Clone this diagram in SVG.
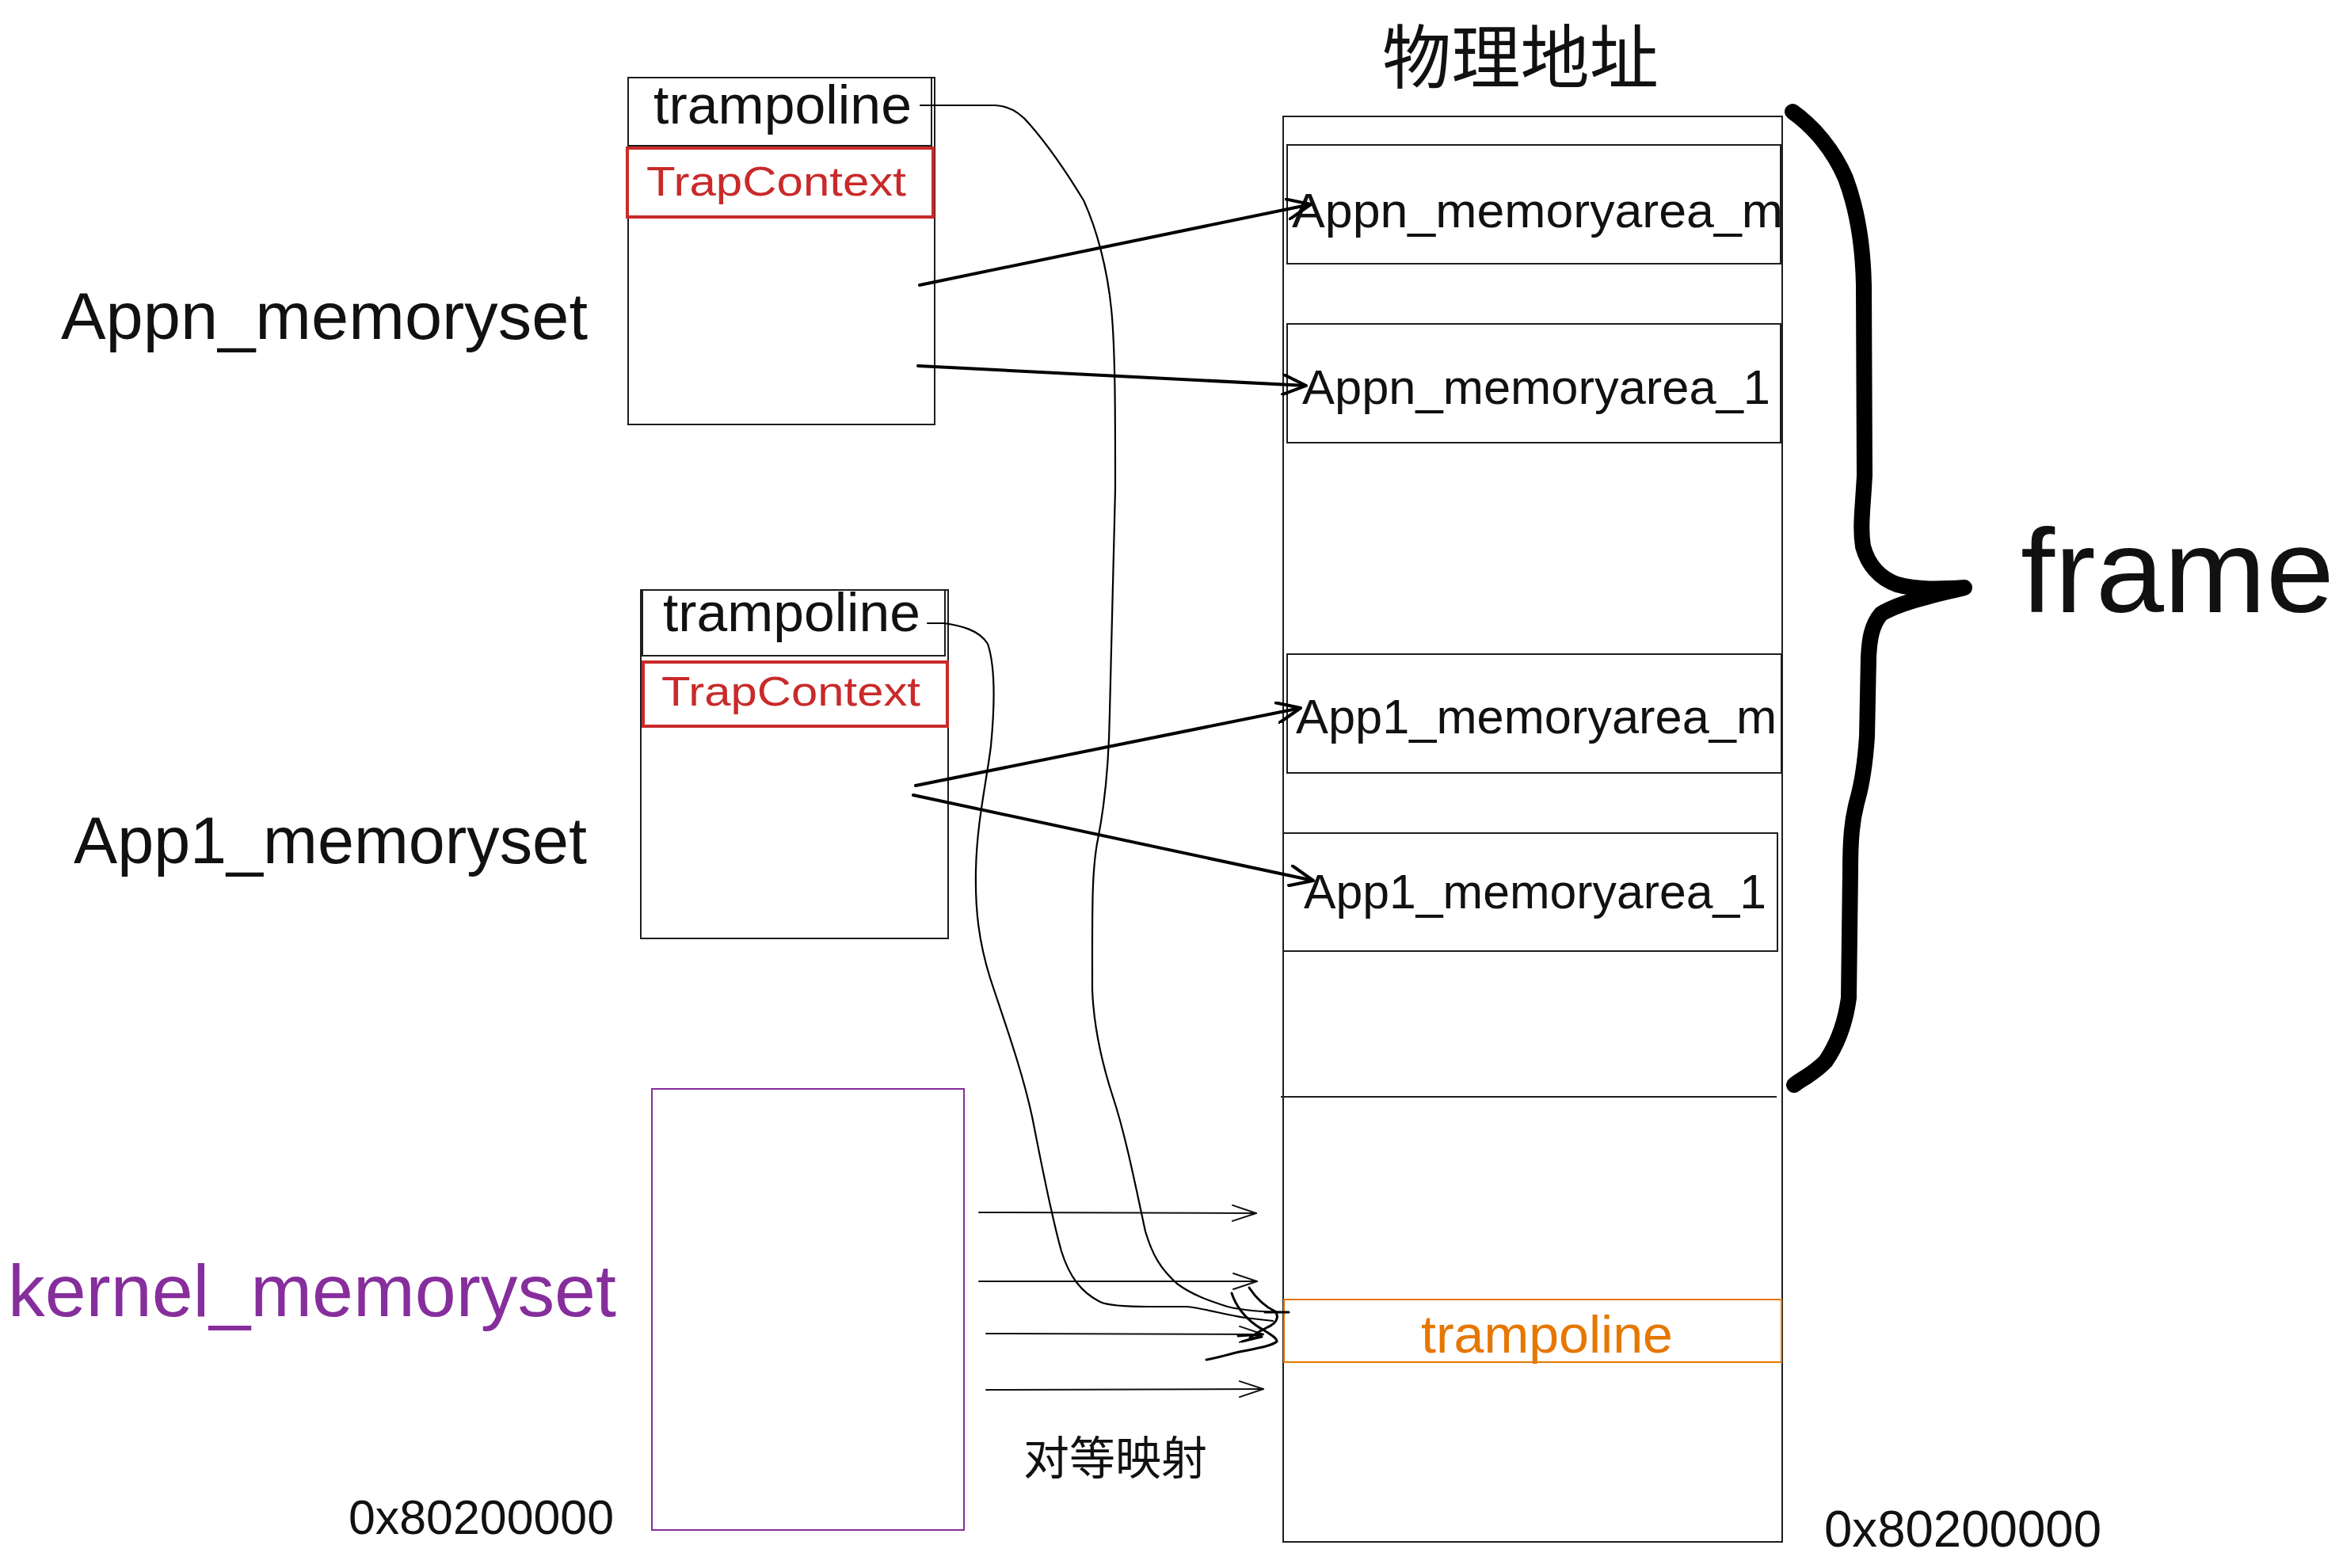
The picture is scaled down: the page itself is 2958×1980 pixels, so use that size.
<svg xmlns="http://www.w3.org/2000/svg" width="2958" height="1980" viewBox="0 0 2958 1980">
<defs>
<style>
.bg{fill:#ffffff}
.box{fill:none;stroke:#1e1e1e;stroke-width:2}
.red{fill:none;stroke:#c92a2a;stroke-width:4}
.purple{fill:none;stroke:#862e9c;stroke-width:2}
.orange{fill:none;stroke:#e67700;stroke-width:2}
.hw{font-family:"Liberation Sans","Noto Sans",sans-serif;fill:#111111}
.cjk{font-family:"Noto Sans CJK SC","Liberation Sans",sans-serif;fill:#111111}
.thick{fill:none;stroke:#000;stroke-width:4;stroke-linecap:round;stroke-linejoin:round}
.curve{fill:none;stroke:#000;stroke-width:2.2;stroke-linecap:round;stroke-linejoin:round}
.thin{fill:none;stroke:#111;stroke-width:2;stroke-linecap:round}
.scrib{fill:none;stroke:#000;stroke-width:3;stroke-linecap:round;stroke-linejoin:round}
.brace{fill:none;stroke:#000;stroke-width:20;stroke-linecap:round;stroke-linejoin:round}
</style>
<marker id="ahThick" viewBox="0 0 32 28" refX="31" refY="14" markerWidth="32" markerHeight="28" markerUnits="userSpaceOnUse" orient="auto">
<path d="M1,1 L31,14 L1,27" fill="none" stroke="#000" stroke-width="4" stroke-linecap="round" stroke-linejoin="round"/>
</marker>
<marker id="ahThin" viewBox="0 0 32 24" refX="31" refY="12" markerWidth="32" markerHeight="24" markerUnits="userSpaceOnUse" orient="auto">
<path d="M1,2 L31,12 L1,22" fill="none" stroke="#111" stroke-width="2" stroke-linecap="round"/>
</marker>
</defs>
<rect class="bg" x="0" y="0" width="2958" height="1980"/>

<g id="title">
<text class="cjk" x="1745" y="104" font-size="88" textLength="349" lengthAdjust="spacingAndGlyphs">物理地址</text>
</g>

<g id="appn-memoryset">
<text class="hw" x="77" y="428" font-size="84" textLength="665" lengthAdjust="spacingAndGlyphs">Appn_memoryset</text>
<rect class="box" x="793" y="98" width="387" height="438"/>
<rect class="box" x="793" y="98" width="383" height="86"/>
<text class="hw" x="825" y="156" font-size="68" textLength="326" lengthAdjust="spacingAndGlyphs">trampoline</text>
<rect class="red" x="792" y="187" width="386" height="87"/>
<text class="hw" x="816" y="247" font-size="52" style="fill:#c92a2a" textLength="328" lengthAdjust="spacingAndGlyphs">TrapContext</text>
</g>

<g id="app1-memoryset">
<text class="hw" x="93" y="1090" font-size="84" textLength="648" lengthAdjust="spacingAndGlyphs">App1_memoryset</text>
<rect class="box" x="809" y="745" width="388" height="440"/>
<rect class="box" x="811" y="745" width="382" height="83"/>
<text class="hw" x="837" y="797" font-size="68" textLength="325" lengthAdjust="spacingAndGlyphs">trampoline</text>
<rect class="red" x="812" y="836" width="384" height="81"/>
<text class="hw" x="835" y="891" font-size="52" style="fill:#c92a2a" textLength="327" lengthAdjust="spacingAndGlyphs">TrapContext</text>
</g>

<g id="kernel-memoryset">
<text class="hw" x="10" y="1662" font-size="92" style="fill:#862e9c" textLength="768" lengthAdjust="spacingAndGlyphs">kernel_memoryset</text>
<rect class="purple" x="823" y="1375" width="394" height="557"/>
<text class="hw" x="440" y="1937" font-size="62" textLength="335" lengthAdjust="spacingAndGlyphs">0x80200000</text>
</g>

<g id="physical-memory">
<rect class="box" x="1620" y="147" width="630" height="1800"/>
<line class="box" x1="1617" y1="1385" x2="2243" y2="1385"/>
<text class="hw" x="2303" y="1953" font-size="64" textLength="350" lengthAdjust="spacingAndGlyphs">0x80200000</text>
</g>

<g id="appn-memoryarea-m">
<rect class="box" x="1625" y="183" width="623" height="150"/>
<text class="hw" x="1631" y="287" font-size="62" textLength="620" lengthAdjust="spacingAndGlyphs">Appn_memoryarea_m</text>
</g>
<g id="appn-memoryarea-1">
<rect class="box" x="1625" y="409" width="623" height="150"/>
<text class="hw" x="1644" y="510" font-size="62" textLength="591" lengthAdjust="spacingAndGlyphs">Appn_memoryarea_1</text>
</g>
<g id="app1-memoryarea-m">
<rect class="box" x="1625" y="826" width="624" height="150"/>
<text class="hw" x="1636" y="926" font-size="62" textLength="607" lengthAdjust="spacingAndGlyphs">App1_memoryarea_m</text>
</g>
<g id="app1-memoryarea-1">
<rect class="box" x="1620" y="1052" width="624" height="149"/>
<text class="hw" x="1646" y="1147" font-size="62" textLength="584" lengthAdjust="spacingAndGlyphs">App1_memoryarea_1</text>
</g>
<g id="phys-trampoline">
<rect class="orange" x="1621" y="1641" width="628" height="79"/>
<text class="hw" x="1794" y="1708" font-size="66" style="fill:#e67700" textLength="318" lengthAdjust="spacingAndGlyphs">trampoline</text>
</g>

<g id="frame">
<path class="brace" d="M2263,141 C2290,160 2315,190 2330,225 C2345,265 2352,310 2353,360 L2354,600 C2352,640 2348,665 2352,690 C2358,712 2372,730 2395,738 C2420,745 2450,744 2480,742 C2440,752 2400,760 2375,775 C2362,790 2360,810 2359,830 L2357,930 C2355,960 2352,985 2345,1010 C2338,1035 2336,1060 2336,1100 L2334,1260 C2330,1290 2322,1315 2305,1340 C2290,1356 2275,1362 2265,1370"/>
<text class="hw" x="2551" y="773" font-size="150" textLength="396" lengthAdjust="spacingAndGlyphs">frame</text>
</g>

<g id="identity-label">
<text class="cjk" x="1292" y="1862" font-size="58" textLength="232" lengthAdjust="spacingAndGlyphs">对等映射</text>
</g>

<g id="connectors">
<path class="thick" d="M1161,360 L1655,258" marker-end="url(#ahThick)"/>
<path class="thick" d="M1159,462 L1649,487" marker-end="url(#ahThick)"/>
<path class="thick" d="M1156,992 L1642,894" marker-end="url(#ahThick)"/>
<path class="thick" d="M1153,1004 L1658,1112" marker-end="url(#ahThick)"/>

<path class="thin" d="M1236,1531 L1586,1532" marker-end="url(#ahThin)"/>
<path class="thin" d="M1236,1618 L1587,1618" marker-end="url(#ahThin)"/>
<path class="thin" d="M1245,1684 L1595,1685" marker-end="url(#ahThin)"/>
<path class="thin" d="M1245,1755 L1595,1754" marker-end="url(#ahThin)"/>

<path class="curve" d="M1162,133 L1257,133 C1275,134 1288,142 1300,157 C1320,180 1345,215 1368,253 C1385,290 1398,340 1403,390 C1408,440 1408,520 1408,617 C1406,700 1404,800 1401,900 C1400,960 1396,1010 1386,1060 C1378,1100 1379,1150 1379,1250 C1381,1300 1392,1345 1405,1385 C1420,1430 1432,1490 1446,1555 C1455,1585 1465,1602 1486,1621 C1505,1635 1525,1642 1550,1650 C1575,1656 1600,1657 1626,1657"/>
<path class="curve" d="M1171,787 L1192,787 C1212,790 1236,795 1247,813 C1256,840 1256,890 1251,942 C1245,990 1233,1040 1232,1100 C1231,1150 1236,1190 1250,1235 C1268,1290 1290,1350 1303,1410 C1315,1470 1326,1530 1340,1580 C1350,1612 1365,1632 1389,1644 C1400,1649 1420,1650 1450,1650 L1498,1650 C1520,1652 1545,1660 1572,1664 L1607,1668"/>

<path class="scrib" stroke-width="4.5" d="M1597,1657 L1627,1657"/>
<path class="scrib" d="M1577,1626 C1585,1638 1597,1650 1610,1656 C1616,1664 1610,1672 1600,1676 C1592,1680 1585,1684 1578,1689"/>
<path class="scrib" d="M1555,1633 C1560,1648 1570,1662 1585,1673 C1598,1682 1612,1688 1612,1694 C1605,1700 1585,1703 1565,1707 C1548,1711 1535,1715 1523,1717"/>
<path class="scrib" stroke-width="2.5" d="M1563,1687 L1593,1685"/>
<path class="scrib" stroke-width="2" d="M1568,1694 L1593,1688"/>
</g>
</svg>
